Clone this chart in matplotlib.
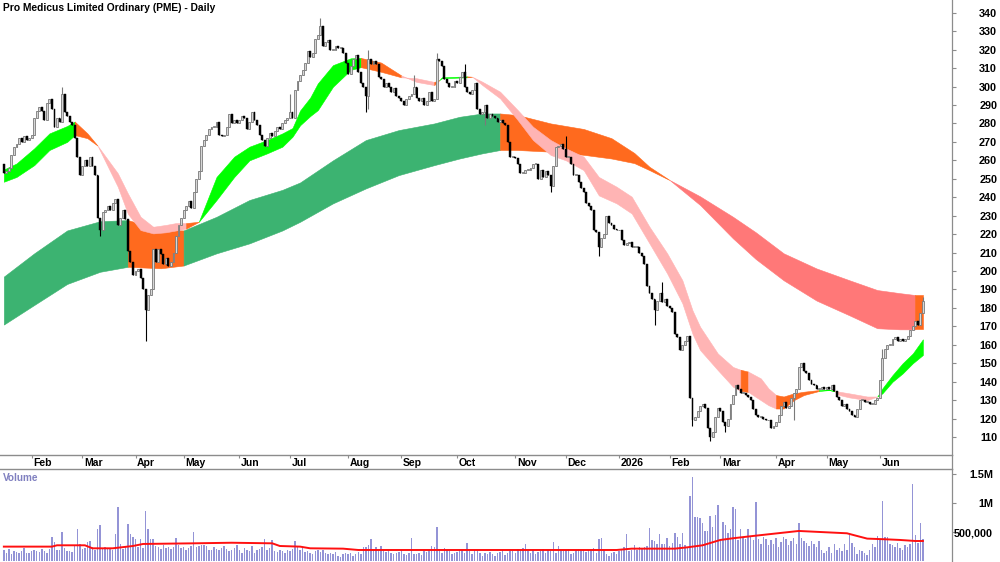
import numpy as np
import pandas as pd
import matplotlib
matplotlib.use("Agg")
import matplotlib.pyplot as plt
import matplotlib.transforms as mtransforms
from matplotlib.lines import Line2D

plt.rcParams['font.family'] = ['Liberation Sans', 'DejaVu Sans']

# ---------------- data ----------------
title = "Pro Medicus Limited Ordinary (PME) - Daily"
first_date = "2025-01-16"
asx_holidays = ['2025-01-27', '2025-04-18', '2025-04-21', '2025-04-25', '2025-06-09',
                '2025-12-25', '2025-12-26', '2026-01-01', '2026-01-26', '2026-04-03',
                '2026-04-06', '2026-06-08']

first_open = 258.0
close = [
    253, 254, 256, 263, 267, 269, 272, 270, 273, 271,
    272, 274, 283, 287, 289, 287, 282, 291, 293, 288,
    278, 283, 281, 296, 286, 284, 281, 279, 272, 262,
    252, 257, 260, 257, 262, 257, 252, 229, 222, 232,
    233, 235, 233, 237, 239, 225, 229, 233, 228, 211,
    205, 198, 200, 201, 196, 190, 179, 187, 190, 212,
    205, 212, 209, 204, 207, 203, 205, 210, 219, 225,
    229, 233, 235, 238, 234, 243, 250, 254, 268, 271,
    274, 277, 278, 278, 281, 274, 273, 274, 278, 285,
    280, 282, 280, 282, 284, 283, 277, 281, 286, 282,
    279, 274, 271, 268, 272, 275, 273, 276, 278, 277,
    280, 282, 283, 286, 283, 298, 303, 306, 309, 313,
    319, 316, 318, 326, 328, 333, 322, 324, 325, 320,
    320, 322, 321, 321, 318, 313, 307, 311, 315, 317,
    308, 302, 300, 295, 315, 312, 314, 312, 305, 304,
    300, 302, 300, 297, 299, 295, 294, 292, 290, 293,
    295, 296, 300, 294, 292, 294, 290, 292, 297, 292,
    293, 315, 314, 311, 304, 302, 300, 300, 303, 302,
    305, 308, 300, 297, 296, 298, 302, 288, 285, 286,
    290, 283, 285, 284, 283, 281, 282, 280, 279, 270,
    262, 262, 261, 258, 253, 253, 255, 255, 256, 258,
    258, 250, 255, 251, 254, 252, 246, 257, 267, 268,
    269, 266, 262, 262, 258, 252, 252, 248, 245, 243,
    237, 235, 233, 222, 221, 213, 218, 220, 230, 226,
    225, 223, 222, 222, 217, 214, 215, 216, 213, 213,
    213, 210, 208, 204, 192, 188, 185, 179, 184, 188,
    183, 185, 181, 180, 178, 166, 164, 157, 160, 162,
    165, 131, 119, 121, 124, 127, 128, 126, 115, 110,
    113, 121, 126, 124, 118, 116, 120, 128, 133, 138,
    136, 134, 134, 133, 132, 130, 125, 122, 121, 121,
    120, 119, 119, 115, 116, 118, 122, 127, 129, 126,
    127, 131, 134, 136, 148, 150, 146, 145, 141, 139,
    138, 136, 136, 137, 136, 137, 136, 138, 135, 132,
    130, 127, 128, 125, 124, 122, 121, 125, 130, 130,
    129, 129, 128, 128, 130, 131, 141, 153, 158, 160,
    160, 163, 164, 162, 163, 162, 163, 165, 168, 170,
    173, 171, 177, 184,
]
extra_high = {23: 300, 113: 296, 125: 337, 144: 320, 162: 306, 171: 318, 182: 312,
              222: 273, 260: 194, 347: 158, 363: 186}
extra_low = {38: 219, 56: 162, 143: 286, 144: 288, 190: 279, 216: 243, 235: 208,
             257: 171, 272: 116, 279: 108, 285: 113, 312: 119}

volume_k = [
    190, 150, 210, 130, 170, 160, 140, 180, 230, 150,
    140, 170, 200, 180, 160, 220, 180, 150, 210, 414,
    340, 200, 190, 512, 230, 180, 170, 160, 260, 552,
    300, 220, 230, 330, 356, 250, 200, 558, 627, 230,
    250, 220, 210, 200, 471, 943, 299, 220, 250, 644,
    471, 414, 380, 250, 380, 230, 874, 552, 380, 391,
    260, 250, 220, 280, 230, 240, 220, 250, 397, 280,
    230, 250, 200, 230, 260, 506, 250, 270, 280, 282,
    260, 200, 190, 240, 220, 200, 230, 260, 210, 180,
    200, 230, 280, 200, 150, 230, 200, 170, 260, 150,
    190, 210, 250, 391, 200, 230, 368, 180, 160, 190,
    180, 150, 200, 170, 220, 356, 250, 190, 230, 160,
    180, 150, 130, 170, 190, 160, 200, 140, 130, 150,
    120, 160, 100, 70, 130, 140, 120, 150, 90, 130,
    160, 120, 240, 250, 282, 380, 200, 250, 180, 260,
    170, 160, 180, 140, 120, 150, 160, 190, 130, 110,
    140, 408, 130, 120, 150, 110, 180, 160, 200, 264,
    250, 598, 210, 150, 230, 200, 180, 130, 140, 160,
    190, 200, 150, 316, 170, 130, 200, 180, 150, 100,
    140, 120, 160, 130, 90, 150, 160, 200, 110, 140,
    170, 180, 150, 220, 190, 230, 293, 170, 150, 200,
    130, 160, 180, 210, 150, 190, 170, 340, 150, 260,
    190, 180, 200, 210, 120, 150, 200, 210, 190, 200,
    160, 190, 200, 230, 150, 390, 395, 200, 120, 100,
    150, 160, 130, 170, 200, 250, 466, 180, 200, 282,
    200, 240, 220, 250, 260, 580, 360, 350, 300, 471,
    300, 290, 397, 260, 320, 483, 414, 300, 494, 282,
    250, 1127, 1449, 770, 760, 750, 667, 529, 529, 782,
    598, 800, 972, 368, 684, 627, 483, 552, 943, 903,
    368, 558, 420, 380, 552, 440, 360, 1029, 380, 300,
    420, 380, 280, 360, 300, 400, 250, 330, 420, 380,
    280, 350, 400, 300, 655, 400, 350, 320, 260, 350,
    300, 250, 350, 200, 150, 180, 250, 140, 300, 200,
    230, 180, 300, 200, 448, 320, 250, 130, 200, 180,
    150, 110, 200, 300, 250, 437, 380, 1046, 425, 420,
    300, 280, 250, 320, 230, 200, 280, 250, 290, 1334,
    448, 320, 667, 380,
]
vol_ma_bar = [0, 19, 21, 32, 35, 43, 51, 55, 75, 90, 106, 109, 117, 121, 134, 140,
              196, 242, 248, 265, 270, 276, 283, 288, 296, 314, 322, 333, 336, 341,
              348, 354, 360, 363]
vol_ma_k = [253, 253, 276, 276, 224, 224, 264, 299, 310, 320, 310, 264, 253, 224, 218, 195,
            195, 195, 218, 218, 241, 276, 368, 397, 437, 523, 506, 483, 448, 391,
            380, 368, 350, 350]

# long-term ribbon (fast / slow average), state per segment: g=up, o=mixed, r=down
lr_bar = [0, 12, 25, 38, 49, 62, 71, 84, 97, 110, 117, 130, 143, 156, 170, 180, 189,
          196, 203, 216, 229, 240, 249, 255, 263, 275, 288, 297, 308, 321, 334, 345,
          354, 360, 363]
lr_fast = [197, 209.6, 222, 227, 227.6, 222.5, 222, 229.4, 238.5, 244, 248, 260, 271,
           276.4, 280, 283.6, 285.4, 285.4, 284.5, 280, 277, 272, 264, 256.5, 249.3,
           235.8, 217.7, 206.5, 195, 184, 176, 169, 168.4, 168.4, 168.4]
lr_slow = [171, 181.6, 193, 199.6, 202.3, 201.5, 203, 209.6, 215, 222, 226.7, 236.7,
           244.8, 252, 257.4, 261, 263.8, 265.6, 265.6, 264.7, 263, 261, 258.5, 254.7,
           249.3, 240.5, 229.4, 221, 209.6, 201.4, 195, 189.7, 188, 187, 187]
lr_state = "gggg" + "oo" + "ggggggggggg" + "ooooooo" + "rrrrrrrrr" + "o"

# short-term ribbon
sr_bar = [0, 5, 12, 18, 25, 28, 33, 37, 45, 49,
          54, 59, 64, 68, 72, 77, 84, 91, 97, 104,
          110, 114, 117, 121, 124, 130, 137, 141, 149, 157,
          163, 170, 172, 173, 183, 185, 189, 196, 203, 209,
          216, 222, 229, 235, 242, 248, 255, 262, 268, 272,
          275, 282, 288, 291, 294, 299, 302, 305, 308, 312,
          316, 322, 326, 328, 330, 334, 341, 345, 347, 351,
          355, 359, 363]
sr_fast = [255, 258.3, 266.5, 274.6, 278.6, 281, 274.6, 268, 245.7, 231,
           222.2, 220.4, 221, 222, 223, 226.7, 251, 262, 267.4, 271,
           274.6, 277.5, 287, 294, 301.7, 311.6, 315.3, 315.5, 313, 306,
           302.5, 300.8, 303.5, 305, 305.5, 305.3, 300.8, 293.6, 281.8, 271,
           262.9, 260, 254.7, 241, 236.7, 231.2, 215, 198.7, 182.5, 166,
           157.2, 146.3, 137.3, 135, 134.5, 130, 127.3, 125.5, 125.5, 130,
           132.8, 135, 135.5, 135, 132.8, 131.5, 130, 132, 136.4, 143.6,
           150, 155.3, 163]
sr_slow = [248.4, 251, 257.4, 265.6, 270, 273.7, 272, 268, 253, 242,
           229.4, 224, 225, 226, 226, 226.7, 238.5, 251, 260, 263.8,
           267.4, 272.8, 279, 284, 287.2, 299.9, 309, 310.5, 308, 305,
           304.5, 302.5, 303.5, 304.5, 305, 305.3, 302.6, 297.2, 287.2, 278.2,
           271, 266.5, 262, 251, 245.7, 240.3, 224, 209.6, 195, 178.7,
           169.8, 155.3, 148, 146.5, 145.5, 141.8, 136.4, 132.8, 132, 133.7,
           134.6, 135.5, 135.5, 135, 134.6, 133.7, 132, 132, 133.7, 140,
           144.5, 150, 154.5]
sr_state = ("ggggg" + "oo" + "rrrrrrr" + "o" + "gggggggggggg" + "oo" + "rr" + "o" + "gg" + "o"
            + "rrrrrrrrrrrrrrrrrr" + "o" + "rrr" + "oooo" + "gg" + "rrrr" + "ggggg")

price_ticks = list(range(110, 341, 10))
vol_ticks = [500000, 1000000, 1500000]
vol_tick_labels = ['500,000', '1M', '1.5M']

# ---------------- styles ----------------
GREY = '#8c8c8c'
long_colors = {'g': '#3cb371', 'o': '#ff6a1e', 'r': '#ff7878'}
short_colors = {'g': '#00ff00', 'o': '#ff6a1e', 'r': '#ffb4b4'}

n = len(close)
dates = pd.bdate_range(first_date, periods=n, freq='C', holidays=asx_holidays)
x = np.arange(n)
c = np.array(close, float)
o = np.concatenate([[first_open], c[:-1]])
hi = np.maximum(o, c)
lo = np.minimum(o, c)
for k, v in extra_high.items():
    hi[k] = max(hi[k], v)
for k, v in extra_low.items():
    lo[k] = min(lo[k], v)

W, H = 1000, 562
fig = plt.figure(figsize=(W / 100, H / 100), dpi=100, facecolor='white')
ax = fig.add_axes([0, 1 - 455 / H, 952 / W, 455 / H])
axv = fig.add_axes([0, 0, 952 / W, 93 / H])

xlim = (-1.52, 374.5)


def draw_ribbon(a, bars, fast, slow, states, colors, z):
    bars = np.asarray(bars, float)
    fast = np.asarray(fast, float)
    slow = np.asarray(slow, float)
    k = 0
    nseg = len(states)
    while k < nseg:
        j = k
        while j + 1 < nseg and states[j + 1] == states[k]:
            j += 1
        sl = slice(k, j + 2)
        col = colors[states[k]]
        a.fill_between(bars[sl], fast[sl], slow[sl], facecolor=col, edgecolor=col,
                       linewidth=0.4, zorder=z)
        k = j + 1


draw_ribbon(ax, lr_bar, lr_fast, lr_slow, lr_state, long_colors, 1)
draw_ribbon(ax, sr_bar, sr_fast, sr_slow, sr_state, short_colors, 2)

up = c >= o
dn = ~up
ax.vlines(x[up], lo[up], hi[up], color='#7a7a7a', lw=0.8, zorder=3)
ax.vlines(x[dn], lo[dn], hi[dn], color='black', lw=0.8, zorder=3)
body_up = np.maximum(c - o, 0.5)
body_dn = np.maximum(o - c, 0.5)
ax.bar(x[up], body_up[up], bottom=o[up], width=0.75, color='#d6d6d6', edgecolor='#7a7a7a',
       linewidth=0.6, zorder=4)
ax.bar(x[dn], body_dn[dn], bottom=c[dn], width=0.75, color='black', edgecolor='black',
       linewidth=0.3, zorder=4)

ax.set_xlim(*xlim)
ax.set_ylim(100.3, 346.9)

# volume
vol = np.array(volume_k, float) * 1000
axv.bar(x, vol, width=0.58, color='#9494d6', linewidth=0, zorder=2)
axv.plot(vol_ma_bar, np.array(vol_ma_k, float) * 1000, color='#ff1010', lw=1.4, zorder=3)
axv.set_xlim(*xlim)
axv.set_ylim(-12000, 1591000)

# spines / ticks
for a in (ax, axv):
    a.spines['left'].set_visible(False)
    a.spines['right'].set_color(GREY)
    a.spines['right'].set_linewidth(0.9)
    a.yaxis.tick_right()
    a.set_facecolor('white')
ax.spines['top'].set_visible(False)
ax.spines['bottom'].set_color(GREY)
ax.spines['bottom'].set_linewidth(1.0)
axv.spines['bottom'].set_visible(False)
axv.spines['top'].set_color(GREY)
axv.spines['top'].set_linewidth(1.0)

ax.set_yticks(price_ticks)
ax.set_yticklabels([str(t) for t in price_ticks], fontsize=7.8, fontweight='bold')
ax.tick_params(axis='y', direction='out', length=3, width=0.8, color=GREY, pad=29.5)
for lbl in ax.get_yticklabels():
    lbl.set_horizontalalignment('right')

axv.set_yticks(vol_ticks)
axv.set_yticklabels(vol_tick_labels, fontsize=7.8, fontweight='bold')
axv.tick_params(axis='y', direction='out', length=3, width=0.8, color=GREY, pad=26.5)
for lbl in axv.get_yticklabels():
    lbl.set_horizontalalignment('right')
axv.set_xticks([])

# month ticks and labels
month_idx = [i for i in range(1, n) if dates[i].month != dates[i - 1].month]
ax.set_xticks(month_idx)
ax.tick_params(axis='x', direction='out', length=1.8, width=0.8, color=GREY, labelbottom=False)
trans = mtransforms.blended_transform_factory(ax.transData, ax.transAxes)
for i in month_idx:
    lab = '2026' if (dates[i].month == 1) else dates[i].strftime('%b')
    ax.text(i + 0.6, -0.0165, lab, transform=trans, ha='left', va='center',
            fontsize=7.5, fontweight='bold', color='black')

# right border through the date band
fig.add_artist(Line2D([952 / W, 952 / W], [93 / H, 1 - 455 / H], transform=fig.transFigure,
                      color=GREY, lw=0.9))

fig.text(3 / W, 1 - 8 / H, title, ha='left', va='center', fontsize=7.4, fontweight='bold',
         color='black')
fig.text(3 / W, 1 - 478 / H, 'Volume', ha='left', va='center', fontsize=7.2,
         fontweight='bold', color='#8080c0')

fig.savefig('out.png', dpi=100, facecolor='white')
